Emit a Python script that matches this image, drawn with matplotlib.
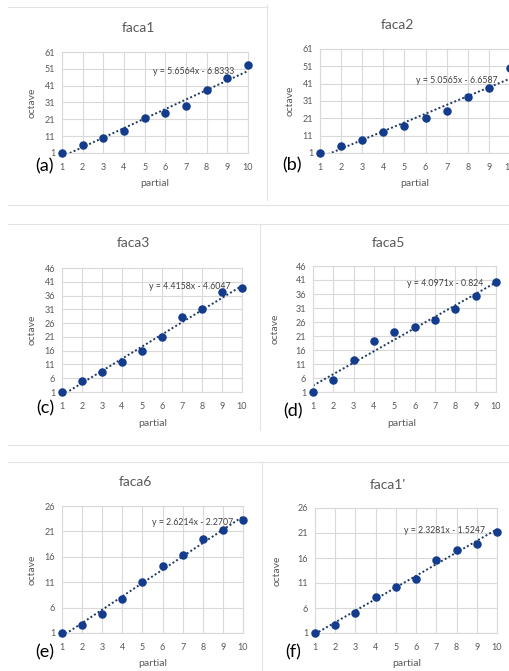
import matplotlib.pyplot as plt
from matplotlib.lines import Line2D
import numpy as np

plt.rcParams['font.family'] = ['Lato', 'DejaVu Sans']

# data
partial = [1, 2, 3, 4, 5, 6, 7, 8, 9, 10]

faca1 = [1, 6, 10, 14.3, 22, 25, 29, 38.6, 45.6, 53]
faca2 = [1, 5.3, 8.4, 13.4, 16.7, 21.3, 25.4, 33.5, 38.3, 50.3]
faca3 = [1, 5, 8.3, 11.8, 15.9, 20.8, 28.1, 31, 37.3, 38.6]
faca5 = [1, 5.3, 12.4, 19.2, 22.5, 24.1, 26.8, 30.8, 35.2, 40.3]
faca6 = [1, 2.5, 4.8, 7.6, 11.1, 14.2, 16.4, 19.6, 21.2, 23.2]
faca1p = [1, 2.7, 5, 8.2, 10.3, 11.9, 15.6, 17.7, 18.9, 21.3]

titles = ["faca1", "faca2", "faca3", "faca5", "faca6", "faca1'"]
letters = ["(a)", "(b)", "(c)", "(d)", "(e)", "(f)"]
slopes = [5.6564, 5.0565, 4.4158, 4.0971, 2.6214, 2.3281]
intercepts = [-6.8333, -6.6587, -4.6047, -0.824, -2.2707, -1.5247]
y_max = [61, 61, 46, 46, 26, 26]
y_step = [10, 10, 5, 5, 5, 5]

series = [faca1, faca2, faca3, faca5, faca6, faca1p]

W, H = 510, 671
fig = plt.figure(figsize=(W / 100, H / 100), dpi=100)


def fx(x):
    return x / W


def fy(y):
    return 1 - y / H


# pixel layout: axes box (left, top, right, bottom), title, letter, xlabel, ylabel x, equation (axes frac)
layout = [
    dict(box=(62, 52, 248, 153), title=(138, 28), letter=(45, 166), xl=(155, 183), yl=32, eq=(0.71, 0.81)),
    dict(box=(320, 49, 510, 153), title=(397, 25), letter=(292, 165), xl=(415, 183), yl=290, eq=(0.72, 0.70)),
    dict(box=(62, 268, 242, 392), title=(133, 243), letter=(45, 408), xl=(153, 423), yl=32, eq=(0.71, 0.85)),
    dict(box=(313, 266, 496, 392), title=(388, 243), letter=(293, 411), xl=(402, 423), yl=275, eq=(0.72, 0.86)),
    dict(box=(62, 506, 243, 633), title=(135, 482), letter=(45, 652), xl=(153, 663), yl=32, eq=(0.72, 0.87)),
    dict(box=(315, 508, 497, 633), title=(388, 485), letter=(293, 652), xl=(407, 663), yl=277, eq=(0.71, 0.82)),
]

grey = '#595959'
grid_c = '#d9d9d9'
dot_c = '#143c8c'
line_c = '#1f3864'

for i, ys in enumerate(series):
    L = layout[i]
    l, t, r, b = L['box']
    ax = fig.add_axes([fx(l), fy(b), (r - l) / W, (b - t) / H])
    ax.scatter(partial, ys, s=26, color=dot_c, zorder=3, clip_on=False)
    xs = np.array([partial[0], partial[-1]])
    ax.plot(xs, slopes[i] * xs + intercepts[i], linestyle=(0, (1, 1.2)), color=line_c, lw=1.4, zorder=2)
    ax.set_xlim(1, 10)
    ax.set_ylim(1, y_max[i])
    ax.set_xticks(partial)
    ax.set_yticks(list(range(1, y_max[i] + 1, y_step[i])))
    ax.grid(True, color=grid_c, lw=0.8)
    ax.set_axisbelow(True)
    for s in ax.spines.values():
        s.set_color(grid_c)
        s.set_linewidth(0.8)
    ax.tick_params(length=0, labelsize=6.5, labelcolor=grey)
    ax.tick_params(axis='x', pad=7)
    ax.tick_params(axis='y', pad=5)
    ex, ey = L['eq']
    ax.text(ex, ey, f"y = {slopes[i]}x - {abs(intercepts[i])}", transform=ax.transAxes,
            ha='center', va='center', fontsize=6.3, color='#404040')

    fig.text(fx(L['title'][0]), fy(L['title'][1]), titles[i], ha='center', va='center',
             fontsize=10, color=grey)
    fig.text(fx(L['letter'][0]), fy(L['letter'][1]), letters[i], ha='center', va='center',
             fontsize=13, color='black')
    fig.text(fx(L['xl'][0]), fy(L['xl'][1]), 'partial', ha='center', va='center',
             fontsize=7.5, color=grey)
    fig.text(fx(L['yl']), fy((t + b) / 2), 'octave', ha='center', va='center',
             rotation=90, fontsize=7.5, color=grey)

# faint chart borders from the source document
borders = [
    ((8, 267), (7, 7)), ((267, 267), (5, 200)),
    ((8, 510), (205, 205)), ((8, 510), (224, 224)), ((260, 260), (224, 430)),
    ((8, 510), (445, 445)), ((8, 510), (462, 462)), ((262, 262), (462, 671)),
]
for (x0, x1), (y0, y1) in borders:
    fig.add_artist(Line2D([fx(x0), fx(x1)], [fy(y0), fy(y1)], color='#e3e3e3', lw=0.8))

fig.savefig('out.png', dpi=100)
